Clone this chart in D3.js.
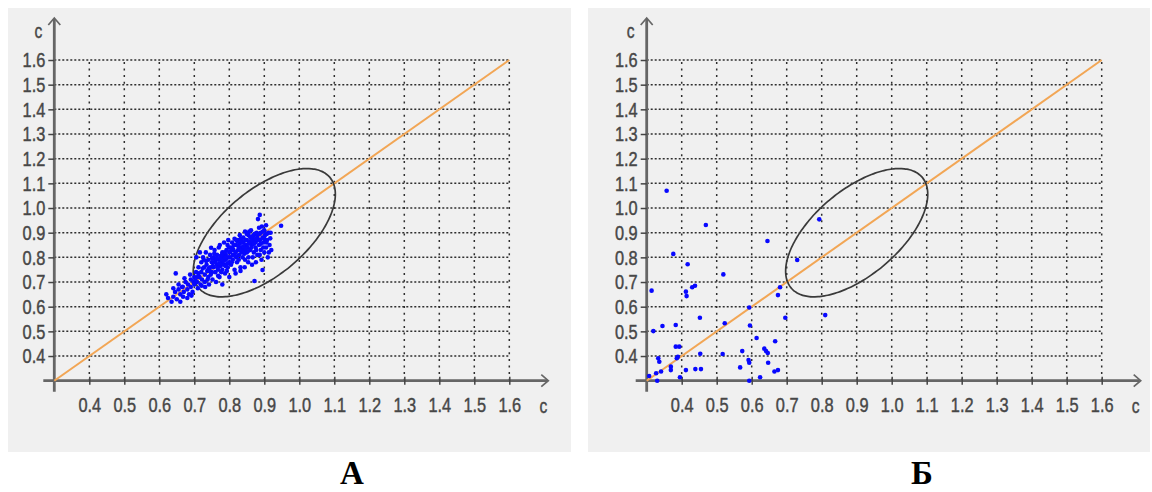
<!DOCTYPE html>
<html>
<head>
<meta charset="utf-8">
<script src="https://cdn.jsdelivr.net/npm/d3@7"></script>
<style>
  body { margin: 0; background: #ffffff; }
  .tick text, .axis-name { font-family: "Liberation Sans", Arial, sans-serif; }
</style>
</head>
<body>
<svg id="chart" width="1152" height="492"></svg>
<script>
// Axis ticks shared by both plots (value of c on each axis)
const tickValues = [0.4, 0.5, 0.6, 0.7, 0.8, 0.9, 1.0, 1.1, 1.2, 1.3, 1.4, 1.5, 1.6];
const tickLabels = ["0.4", "0.5", "0.6", "0.7", "0.8", "0.9", "1.0", "1.1", "1.2", "1.3", "1.4", "1.5", "1.6"];
const axisDomain = [0.3, 1.6];
const axisName = "c";
const panelTitles = ["А", "Б"];

// Line of equality c = c
const diagonal = [[0.3, 0.3], [1.6, 1.6]];

// Tolerance region: centre, half-extents along x and y, and correlation
const regionCentre = [0.9, 0.9];
const regionHalfExtent = [0.203, 0.26];
const regionCorrelation = [0.6];

// Plot А: tightly clustered measurements
const pointsA = [
  [0.62,0.65],[0.635,0.62],[0.64,0.64],[0.645,0.66],[0.65,0.63],[0.655,0.67],[0.66,0.65],[0.665,0.68],
  [0.67,0.66],[0.668,0.64],[0.675,0.70],[0.68,0.67],[0.682,0.69],[0.685,0.65],[0.69,0.71],[0.69,0.68],
  [0.695,0.66],[0.698,0.70],[0.70,0.72],[0.70,0.69],[0.647,0.735],[0.667,0.681],[0.655,0.69],[0.672,0.715],
  [0.688,0.73],[0.692,0.645],[0.68,0.635],[0.66,0.62],[0.625,0.635],[0.64,0.675],
  [0.705,0.74],[0.708,0.70],[0.71,0.675],[0.712,0.76],[0.715,0.72],[0.718,0.69],[0.72,0.78],[0.72,0.74],
  [0.722,0.71],[0.725,0.80],[0.728,0.76],[0.73,0.73],[0.73,0.70],[0.733,0.82],[0.735,0.77],[0.737,0.745],
  [0.74,0.72],[0.74,0.79],[0.742,0.69],[0.745,0.81],[0.745,0.76],[0.748,0.839],[0.75,0.74],[0.75,0.78],
  [0.752,0.71],[0.755,0.80],[0.755,0.76],[0.758,0.83],[0.76,0.74],[0.76,0.785],[0.762,0.70],[0.765,0.81],
  [0.765,0.77],[0.768,0.75],[0.77,0.84],[0.77,0.79],[0.772,0.72],[0.775,0.805],[0.775,0.765],[0.778,0.78],
  [0.78,0.69],[0.78,0.82],[0.78,0.75],[0.782,0.80],[0.785,0.86],[0.785,0.77],[0.788,0.735],[0.79,0.81],
  [0.79,0.79],[0.792,0.83],[0.795,0.76],[0.795,0.85],[0.798,0.80],[0.80,0.78],[0.80,0.82],[0.80,0.72],
  [0.706,0.80],[0.716,0.82],[0.727,0.79],[0.738,0.71],[0.747,0.73],[0.757,0.815],[0.763,0.795],[0.768,0.725],
  [0.773,0.85],[0.777,0.74],[0.783,0.785],[0.787,0.82],[0.793,0.745],[0.797,0.87],[0.712,0.735],[0.724,0.755],
  [0.734,0.785],[0.744,0.745],[0.753,0.765],[0.766,0.76],[0.774,0.795],[0.786,0.80],[0.794,0.775],[0.703,0.705],
  [0.709,0.72],[0.721,0.685],[0.731,0.68],[0.741,0.755],[0.751,0.795],[0.759,0.78],[0.771,0.775],[0.779,0.81],
  [0.789,0.765],[0.799,0.84],
  [0.802,0.80],[0.805,0.84],[0.805,0.77],[0.808,0.86],[0.81,0.81],[0.81,0.79],[0.812,0.83],[0.815,0.875],
  [0.815,0.75],[0.818,0.82],[0.82,0.85],[0.82,0.80],[0.822,0.78],[0.825,0.87],[0.825,0.83],[0.828,0.81],
  [0.83,0.89],[0.83,0.855],[0.832,0.76],[0.835,0.84],[0.835,0.82],[0.838,0.80],[0.84,0.88],[0.84,0.86],
  [0.842,0.83],[0.845,0.905],[0.845,0.79],[0.848,0.85],[0.85,0.87],[0.85,0.82],[0.852,0.84],[0.855,0.89],
  [0.855,0.80],[0.858,0.86],[0.86,0.83],[0.86,0.88],[0.862,0.91],[0.865,0.85],[0.865,0.77],[0.868,0.87],
  [0.87,0.82],[0.87,0.89],[0.872,0.704],[0.875,0.86],[0.875,0.84],[0.878,0.90],[0.88,0.81],[0.88,0.88],
  [0.882,0.955],[0.885,0.85],[0.885,0.92],[0.887,0.972],[0.888,0.87],[0.89,0.83],[0.89,0.90],[0.892,0.79],
  [0.895,0.749],[0.895,0.88],[0.898,0.86],[0.90,0.91],[0.90,0.82],[0.902,0.89],[0.905,0.84],[0.905,0.93],
  [0.908,0.87],[0.91,0.80],[0.912,0.90],[0.915,0.85],[0.917,0.877],[0.92,0.83],[0.948,0.928],
  [0.803,0.825],[0.807,0.78],[0.813,0.85],[0.817,0.805],[0.823,0.865],[0.827,0.79],[0.833,0.875],[0.837,0.83],
  [0.843,0.815],[0.847,0.87],[0.853,0.825],[0.857,0.905],[0.863,0.84],[0.867,0.80],[0.873,0.895],[0.877,0.83],
  [0.883,0.87],[0.887,0.81],[0.893,0.925],[0.897,0.84],[0.903,0.87],[0.907,0.895],[0.913,0.82],[0.918,0.90],
  [0.81,0.835],[0.82,0.87],[0.83,0.83],[0.84,0.845],[0.85,0.895],[0.86,0.865],[0.87,0.855],[0.88,0.895],
  [0.89,0.855],[0.90,0.875],[0.826,0.845],[0.836,0.865],[0.846,0.835],[0.856,0.855],[0.866,0.885],[0.876,0.875],
  [0.886,0.895],[0.896,0.905],[0.906,0.86],[0.844,0.76],[0.854,0.78],[0.876,0.78],[0.818,0.735],[0.832,0.745]
];

// Plot Б: widely scattered measurements
const pointsB = [
  [0.357,1.070],[0.469,0.931],[0.645,0.866],[0.793,0.954],[0.376,0.814],[0.417,0.772],[0.730,0.789],[0.519,0.731],
  [0.314,0.665],[0.412,0.661],[0.414,0.643],[0.430,0.679],[0.438,0.685],[0.681,0.679],[0.675,0.647],[0.452,0.555],
  [0.593,0.597],[0.696,0.555],[0.810,0.566],[0.319,0.501],[0.345,0.522],[0.383,0.526],[0.523,0.533],[0.595,0.524],
  [0.614,0.473],[0.667,0.460],[0.383,0.438],[0.393,0.438],[0.636,0.430],[0.641,0.420],[0.646,0.412],[0.573,0.420],
  [0.517,0.408],[0.453,0.409],[0.333,0.391],[0.336,0.377],[0.386,0.391],[0.389,0.397],[0.591,0.384],[0.593,0.373],
  [0.647,0.373],[0.369,0.357],[0.369,0.343],[0.567,0.354],[0.412,0.343],[0.439,0.347],[0.455,0.347],[0.665,0.337],
  [0.675,0.343],[0.307,0.319],[0.327,0.330],[0.341,0.337],[0.330,0.300],[0.395,0.314],[0.593,0.300],[0.624,0.314]
];

const svg = d3.select("#chart");

const panels = [
  { box: [8, 8, 563, 444], originX: 54.3, title: panelTitles[0], titleX: 352, points: pointsA },
  { box: [588, 8, 562, 444], originX: 646.7, title: panelTitles[1], titleX: 922, points: pointsB }
];

const gridColor = "#2e2e2e";
const axisColor = "#666666";
const textColor = "#474747";
const narrow = 0.78;   // horizontal squeeze applied to the label glyphs

panels.forEach(p => {
  const g = svg.append("g");

  g.append("rect")
    .attr("x", p.box[0]).attr("y", p.box[1])
    .attr("width", p.box[2]).attr("height", p.box[3])
    .attr("fill", "#f0f0f0");

  const x = d3.scaleLinear().domain(axisDomain).range([p.originX, p.originX + 455]);
  const y = d3.scaleLinear().domain(axisDomain).range([380.7, 60]);

  // dashed grid
  const grid = g.append("g");
  grid.selectAll("line.h").data(tickValues).join("line")
    .attr("x1", x(axisDomain[0])).attr("x2", x(axisDomain[1]))
    .attr("y1", d => y(d)).attr("y2", d => y(d))
    .attr("stroke", gridColor).attr("stroke-width", 1.5)
    .attr("stroke-dasharray", "2,2");
  grid.selectAll("line.v").data(tickValues).join("line")
    .attr("x1", d => x(d)).attr("x2", d => x(d))
    .attr("y1", y(axisDomain[0])).attr("y2", y(axisDomain[1]))
    .attr("stroke", gridColor).attr("stroke-width", 1.5)
    .attr("stroke-dasharray", "2,4.6");

  // axes lines with open arrowheads
  const x0 = x(axisDomain[0]), y0 = y(axisDomain[0]);
  g.append("line").attr("x1", x0 - 11).attr("x2", x0 + 493).attr("y1", y0).attr("y2", y0)
    .attr("stroke", axisColor).attr("stroke-width", 2.8);
  g.append("line").attr("x1", x0).attr("x2", x0).attr("y1", y0 + 11).attr("y2", 19)
    .attr("stroke", axisColor).attr("stroke-width", 2.8);
  g.append("path")
    .attr("d", `M${x0 + 487},${y0 - 6}L${x0 + 494},${y0}L${x0 + 487},${y0 + 6}`)
    .attr("fill", "none").attr("stroke", axisColor).attr("stroke-width", 1.7);
  g.append("path")
    .attr("d", `M${x0 - 6},${25}L${x0},${18}L${x0 + 6},${25}`)
    .attr("fill", "none").attr("stroke", axisColor).attr("stroke-width", 1.7);

  // tick marks and labels from d3 axes
  const fmt = (d) => tickLabels[tickValues.indexOf(d)];
  const ax = g.append("g").attr("transform", `translate(0,${y0})`)
    .call(d3.axisBottom(x).tickValues(tickValues).tickFormat(fmt).tickSizeInner(4).tickSizeOuter(0).tickPadding(12));
  ax.select(".domain").remove();
  ax.selectAll(".tick line").attr("y1", -4).attr("stroke", "#444").attr("stroke-width", 1.5);
  ax.selectAll(".tick text").attr("fill", textColor).attr("font-size", 21)
    .attr("stroke", textColor).attr("stroke-width", 0.45)
    .attr("transform", `scale(${narrow},1)`);

  const ay = g.append("g").attr("transform", `translate(${x0},0)`)
    .call(d3.axisLeft(y).tickValues(tickValues).tickFormat(fmt).tickSizeInner(6).tickSizeOuter(0).tickPadding(3));
  ay.select(".domain").remove();
  ay.selectAll(".tick line").attr("stroke", "#444").attr("stroke-width", 1.5);
  ay.selectAll(".tick text").attr("fill", textColor).attr("font-size", 21)
    .attr("stroke", textColor).attr("stroke-width", 0.45)
    .attr("x", -9 / narrow).attr("transform", `scale(${narrow},1)`);

  // axis names
  g.append("text").attr("class", "axis-name")
    .attr("transform", `translate(${x0 - 16},38) scale(${narrow},1)`)
    .attr("text-anchor", "middle").attr("font-size", 20).attr("fill", textColor)
    .attr("stroke", textColor).attr("stroke-width", 0.4).text(axisName);
  g.append("text").attr("class", "axis-name")
    .attr("transform", `translate(${x0 + 489},413) scale(${narrow},1)`)
    .attr("text-anchor", "middle").attr("font-size", 20).attr("fill", textColor)
    .attr("stroke", textColor).attr("stroke-width", 0.4).text(axisName);

  // line of equality
  g.append("path")
    .attr("d", d3.line().x(d => x(d[0])).y(d => y(d[1]))(diagonal))
    .attr("fill", "none").attr("stroke", "#f2a655").attr("stroke-width", 2);

  // tolerance ellipse
  const phi = Math.acos(regionCorrelation[0]);
  const ellipsePts = d3.range(0, 360, 3).map(a => {
    const t = a * Math.PI / 180;
    return [regionCentre[0] + regionHalfExtent[0] * Math.cos(t),
            regionCentre[1] + regionHalfExtent[1] * Math.cos(t - phi)];
  });
  g.append("path")
    .attr("d", d3.line().curve(d3.curveCardinalClosed).x(d => x(d[0])).y(d => y(d[1]))(ellipsePts))
    .attr("fill", "none").attr("stroke", "#3a3a3a").attr("stroke-width", 1.7);

  // measurements
  g.append("g").selectAll("circle").data(p.points).join("circle")
    .attr("cx", d => x(d[0])).attr("cy", d => y(d[1])).attr("r", 2.3)
    .attr("fill", "#0808ff");

  // panel caption
  svg.append("text").attr("x", p.titleX).attr("y", 484).attr("text-anchor", "middle")
    .attr("font-family", "'Liberation Serif', 'Times New Roman', serif")
    .attr("font-weight", "bold").attr("font-size", 33).attr("fill", "#000")
    .text(p.title);
});
</script>
</body>
</html>
